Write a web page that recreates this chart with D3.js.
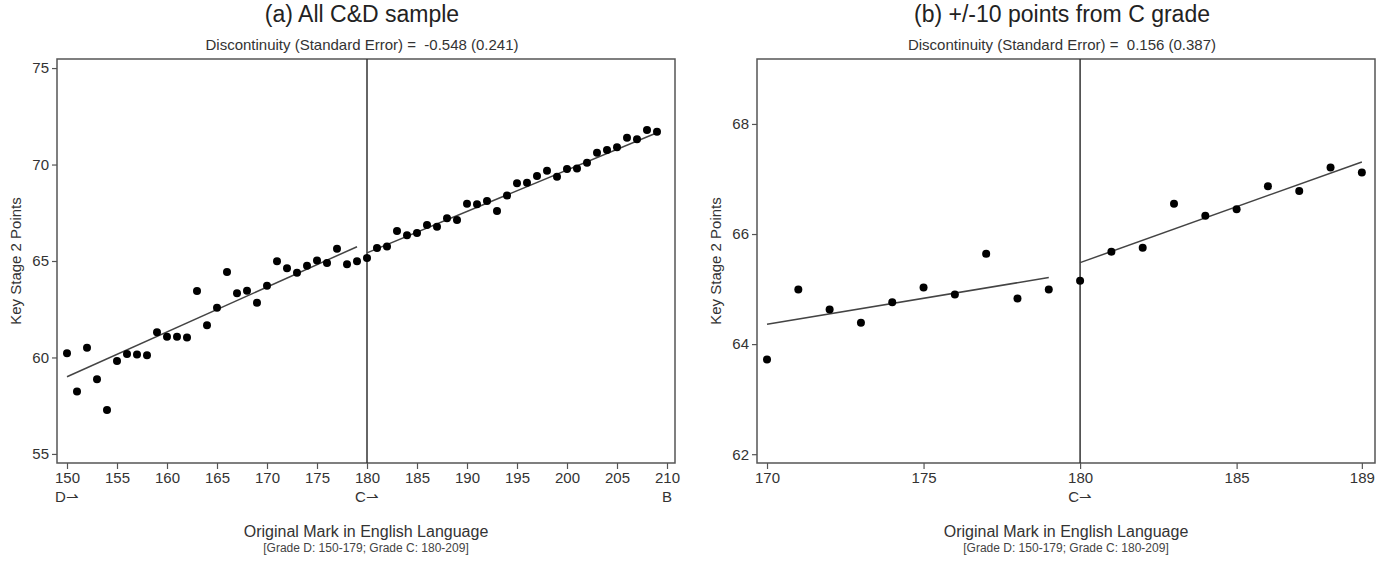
<!DOCTYPE html>
<html>
<head>
<meta charset="utf-8">
<script src="https://cdn.jsdelivr.net/npm/d3@7"></script>
<style>
  body { margin: 0; background: #fff; }
  text { font-family: "Liberation Sans Narrow", "Arial Narrow", "Liberation Sans", Arial, sans-serif; fill: #333; }
</style>
</head>
<body>
<div id="chart"></div>
<script>
// original mark and mean KS2 points (binned means)
const marks = d3.range(150, 210);
const ks2Points = [
  60.22, 58.23, 60.51, 58.87, 57.28, 59.82, 60.18, 60.16, 60.11, 61.31,
  61.08, 61.08, 61.03, 63.45, 61.67, 62.58, 64.43, 63.33, 63.46, 62.84,
  63.72, 64.99, 64.63, 64.39, 64.76, 65.03, 64.90, 65.64, 64.83, 64.99,
  65.15, 65.68, 65.75, 66.55, 66.33, 66.45, 66.87, 66.78, 67.21, 67.12,
  67.97, 67.94, 68.11, 67.59, 68.40, 69.03, 69.06, 69.40, 69.68, 69.37,
  69.77, 69.80, 70.09, 70.61, 70.75, 70.89, 71.39, 71.31, 71.79, 71.70
];

// fitted lines, either side of the C cutoff
const fitA = [[[150, 59.00], [179, 65.74]], [[180, 65.42], [209, 71.65]]];
const fitB = [[[170, 64.36], [179, 65.21]], [[180, 65.48], [189, 67.31]]];

const xTicksA = d3.range(150, 211, 5);
const yTicksA = [55, 60, 65, 70, 75];
const xTicksB = [170, 175, 180, 185, 189];
const yTicksB = [62, 64, 66, 68];
const gradeLabelsA = { 150: "D\u21C0", 180: "C\u21C0", 210: "B" };
const gradeLabelsB = { 180: "C\u21C0" };

const width = 1388, height = 562;
const svg = d3.select("#chart").append("svg")
  .attr("width", width).attr("height", height);

const panels = [
  {
    title: "(a) All C&D sample",
    sub: "Discontinuity (Standard Error) =  -0.548 (0.241)",
    x0: 57, x1: 675, xDom: [149.0, 210.8], yDom: [54.53, 75.47],
    xTicks: xTicksA, yTicks: yTicksA, grades: gradeLabelsA, fit: fitA,
    points: marks.map((m, i) => ({ x: m, y: ks2Points[i] }))
  },
  {
    title: "(b) +/-10 points from C grade",
    sub: "Discontinuity (Standard Error) =  0.156 (0.387)",
    x0: 757, x1: 1375, xDom: [169.68, 189.42], yDom: [61.84, 69.18],
    xTicks: xTicksB, yTicks: yTicksB, grades: gradeLabelsB, fit: fitB,
    points: marks.map((m, i) => ({ x: m, y: ks2Points[i] })).filter(d => d.x >= 170 && d.x <= 189)
  }
];

const plotTop = 59, plotBottom = 463;

panels.forEach(p => {
  const x = d3.scaleLinear().domain(p.xDom).range([p.x0, p.x1]);
  const y = d3.scaleLinear().domain(p.yDom).range([plotBottom, plotTop]);
  const cx = (p.x0 + p.x1) / 2;
  const g = svg.append("g");

  // titles
  g.append("text").attr("x", cx - 4).attr("y", 22).attr("text-anchor", "middle")
    .style("font-size", "23px").style("fill", "#222").text(p.title);
  g.append("text").attr("x", cx - 4).attr("y", 50).attr("text-anchor", "middle")
    .style("font-size", "15px").style("white-space", "pre").text(p.sub);

  // axes
  const yAxis = g.append("g").attr("transform", `translate(${p.x0},0)`)
    .call(d3.axisLeft(y).tickValues(p.yTicks).tickSize(5).tickPadding(3));
  const xAxis = g.append("g").attr("transform", `translate(0,${plotBottom})`)
    .call(d3.axisBottom(x).tickValues(p.xTicks).tickSize(6).tickPadding(3));
  [yAxis, xAxis].forEach(a => {
    a.select(".domain").remove();
    a.selectAll(".tick line").attr("stroke", "#555").attr("stroke-width", 1.2);
    a.selectAll(".tick text").style("font-size", "15px").attr("fill", "#333");
  });

  // grade labels under ticks
  g.selectAll(".grade").data(Object.keys(p.grades)).enter().append("text")
    .attr("x", d => x(+d)).attr("y", 502).attr("text-anchor", "middle")
    .style("font-size", "15px").text(d => p.grades[d]);

  // frame
  g.append("rect").attr("x", p.x0).attr("y", plotTop)
    .attr("width", p.x1 - p.x0).attr("height", plotBottom - plotTop)
    .attr("fill", "none").attr("stroke", "#555").attr("stroke-width", 1.5);

  // cutoff line
  g.append("line").attr("x1", x(180)).attr("x2", x(180))
    .attr("y1", plotTop).attr("y2", plotBottom)
    .attr("stroke", "#333").attr("stroke-width", 1.5);

  // fit lines
  const line = d3.line().x(d => x(d[0])).y(d => y(d[1]));
  g.selectAll(".fit").data(p.fit).enter().append("path")
    .attr("d", line).attr("fill", "none").attr("stroke", "#444").attr("stroke-width", 1.5);

  // points
  g.selectAll(".pt").data(p.points).enter().append("circle")
    .attr("cx", d => x(d.x)).attr("cy", d => y(d.y)).attr("r", 4).attr("fill", "#000");

  // axis titles
  g.append("text").attr("x", cx).attr("y", 537).attr("text-anchor", "middle")
    .style("font-size", "16px").text("Original Mark in English Language");
  g.append("text").attr("x", cx).attr("y", 552).attr("text-anchor", "middle")
    .style("font-size", "12px").style("fill", "#444").text("[Grade D: 150-179; Grade C: 180-209]");
  g.append("text").attr("transform", `translate(${p.x0 - 36},${(plotTop + plotBottom) / 2}) rotate(-90)`)
    .attr("text-anchor", "middle").style("font-size", "15px").text("Key Stage 2 Points");
});
</script>
</body>
</html>
